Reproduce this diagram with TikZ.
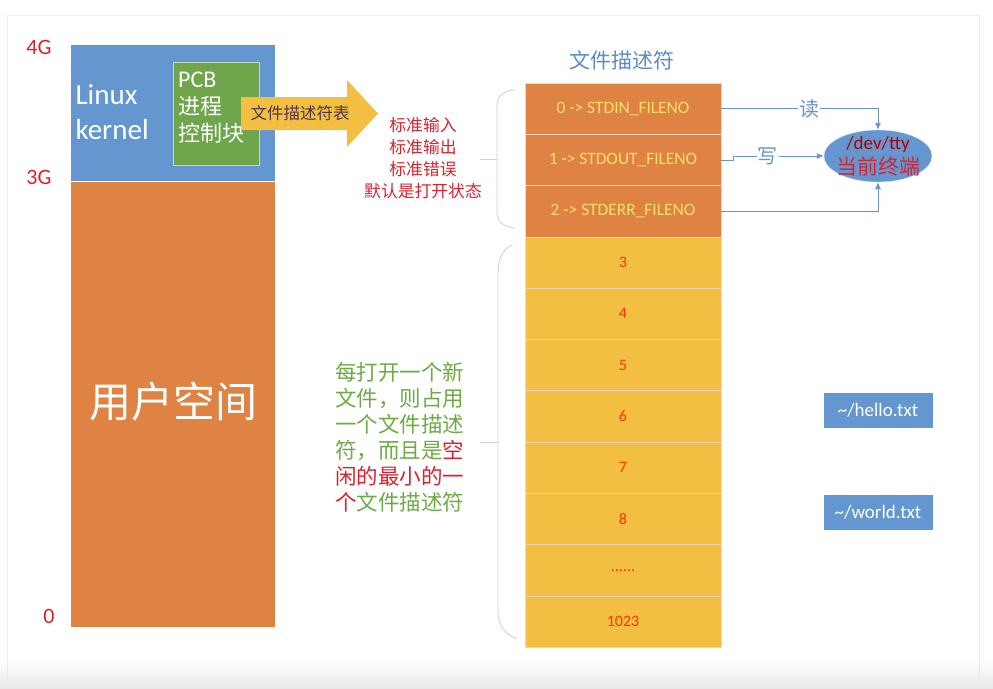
\documentclass[tikz,border=0pt]{standalone}
\usepackage{fontspec}
\setmainfont{Carlito}
\newfontfamily\cjk{Noto Sans CJK SC}
\usetikzlibrary{arrows.meta,shapes.geometric}

\definecolor{kblue}{HTML}{6497CF}
\definecolor{uorange}{HTML}{DF8345}
\definecolor{fdgold}{HTML}{F2BF43}
\definecolor{pgreen}{HTML}{6FA54B}
\definecolor{lred}{HTML}{D8232F}
\definecolor{lgreen}{HTML}{6DAA45}
\definecolor{cblue}{HTML}{6A92CB}
\definecolor{tblue}{HTML}{5B8AC6}
\definecolor{tabtext}{HTML}{4E3650}
\newcommand\fdsixdots{......}

\tikzset{
  fdrow/.style={draw=white!65!uorange, line width=0.8pt, minimum width=196pt,
    minimum height=51.3pt, inner sep=0pt, font=\fontsize{17.4}{17.4}\selectfont},
  conn/.style={draw=cblue, line width=0.9pt, -{Latex[length=7pt,width=6pt]}},
  brace/.style={draw=gray!35, line width=0.9pt},
  filebox/.style={fill=kblue, text=white, minimum width=109pt, minimum height=35pt,
    inner sep=0pt, font=\fontsize{19}{19}\selectfont},
  gmark/.style={text=lred, font=\fontsize{22}{22}\selectfont}
}

\begin{document}
\begin{tikzpicture}[x=1pt,y=-1pt]
  \useasboundingbox (0,0) rectangle (993,688);
  % frame
  \shade[top color=white, bottom color=gray!18] (0,660) rectangle (993,688);
  \draw[gray!15] (7,15) -- (979,15) -- (979,688) (7,15) -- (7,688);

  % memory
  \fill[kblue] (71,45) rectangle (275,181);
  \fill[uorange] (71,182) rectangle (275,627);
  \node[gmark] (g4) at (39,47) {4G};
  \node[gmark] (g3) at (39,177) {3G};
  \node[gmark] (g0) at (49,616) {0};
  \node[text=white, align=left, anchor=west, font=\fontsize{29}{35}\selectfont] (linux) at (72,112) {Linux\\kernel};
  \node[text=white, font=\cjk\fontsize{42}{42}\selectfont] (user) at (173,402) {用户空间};
  \node[fill=pgreen, draw=white!60!pgreen, minimum width=86pt, minimum height=103pt] (pcb) at (216,113.5) {};
  \node[text=white, align=left, anchor=north west, inner sep=0pt, font=\cjk\fontsize{22}{27}\selectfont] (pcbtext) at (178,72)
    {{\normalfont\fontsize{24}{27}\selectfont PCB}\\进程\\控制块};

  % table arrow
  \fill[fdgold] (241,97) -- (347,97) -- (347,80) -- (378,113.5) -- (347,147) -- (347,130) -- (241,130) -- cycle;
  \node[text=tabtext, font=\cjk\fontsize{16.5}{16.5}\selectfont] (fdtab) at (300,113) {文件描述符表};
  \node[text=lred, align=center, font=\cjk\fontsize{16.8}{22}\selectfont] (std) at (423,158)
    {标准输入\\标准输出\\标准错误\\默认是打开状态};

  % descriptors
  \node[text=tblue, font=\cjk\fontsize{21}{21}\selectfont] (title) at (622,60) {文件描述符};
  \node[fdrow, fill=uorange, text=yellow!70!orange!60] (r0) at (623,108.65) {0 -> STDIN\_FILENO};
  \node[fdrow, fill=uorange, text=yellow!70!orange!60] (r1) at (623,159.95) {1 -> STDOUT\_FILENO};
  \node[fdrow, fill=uorange, text=yellow!70!orange!60] (r2) at (623,211.25) {2 -> STDERR\_FILENO};
  \foreach \lab [count=\i from 3] in {3,4,5,6,7,8,\fdsixdots,1023}
    \node[fdrow, fill=fdgold, text=red!60!orange, font=\fontsize{16}{16}\selectfont] (fd\i) at (623,108.65+51.3*\i) {\lab};

  % braces
  \draw[brace] ([xshift=-10pt,yshift=-7pt]r0.north west) .. controls (500,92) and (497,97) .. (497,108) -- (497,212)
    .. controls (497,222) and (503,226) .. ([xshift=-10pt,yshift=9pt]r2.south west);
  \coordinate (b1) at (480,159);
  \draw[brace] (b1) -- (497,159);
  \draw[brace] ([xshift=-12pt,yshift=-8pt]fd3.north west) .. controls (502,250) and (498,258) .. (498,275) -- (498,610)
    .. controls (498,626) and (505,634) .. ([xshift=-8pt,yshift=9pt]fd10.south west);
  \coordinate (b2) at (480,442);
  \draw[brace] (b2) -- (498,442);
  \node[text=lgreen, align=left, anchor=north west, inner sep=0pt, font=\cjk\fontsize{21.5}{26}\selectfont] (note) at (335,362)
    {每打开一个新\\文件，则占用\\一个文件描述\\符，而且是\textcolor{lred}{空}\\\textcolor{lred}{闲的最小的一}\\\textcolor{lred}{个}文件描述符};

  % terminal
  \node[ellipse, fill=kblue, draw=white!70!kblue, minimum width=108pt, minimum height=52pt, inner sep=-9pt, align=center,
    font=\fontsize{19}{25}\selectfont] (tty) at (878,156)
    {\textcolor{red!70!black}{/dev/tty}\\\textcolor{lred}{\cjk\fontsize{21}{25}\selectfont 当前终端}};
  \draw[conn] (r0.east) -| node[pos=0.28, fill=white, text=cblue, inner sep=1pt, font=\cjk\fontsize{20}{20}\selectfont] {读} (tty.north);
  \draw[conn] (r1.east) -- ++(12,0) |- node[pos=0.69, fill=white, text=cblue, inner sep=1pt, font=\cjk\fontsize{20}{20}\selectfont] {写} (tty.west);
  \draw[conn] (r2.east) -| (tty.south);

  % files
  \node[filebox] (hello) at (878,410) {\textasciitilde/hello.txt};
  \node[filebox] (world) at (878,512) {\textasciitilde/world.txt};
\end{tikzpicture}
\end{document}
